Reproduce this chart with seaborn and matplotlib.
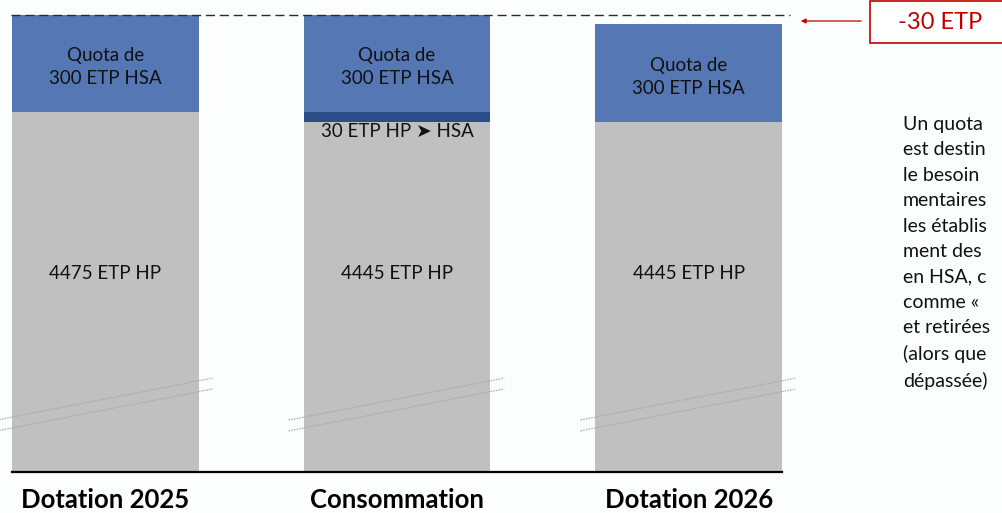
import matplotlib
matplotlib.use("Agg")
import matplotlib.pyplot as plt
from matplotlib.patches import Rectangle
import pandas as pd
import seaborn as sns

categories = ["Dotation 2025", "Consommation", "Dotation 2026"]
hp = [4475, 4445, 4445]
hp_to_hsa = [0, 30, 0]
hsa = [300, 300, 300]
ecart_label = "-30 ETP"
note_lines = ["Un quota", "est destin", "le besoin", "mentaires", "les établis",
              "ment des", "en HSA, c", "comme «", "et retirées", "(alors que",
              "dépassée)"]

BLUE = "#5578B4"
DARK_BLUE = "#2A4D89"
GREY = "#C0C0C0"
RED = "#C00000"
BG = "#FCFEFE"

df = pd.DataFrame({"cat": categories, "hp": hp, "shift": hp_to_hsa, "hsa": hsa})
df["with_shift"] = df["hp"] + df["shift"]
df["total"] = df["with_shift"] + df["hsa"]

sns.set_theme(style="white")
plt.rcParams["font.family"] = ["Lato", "DejaVu Sans"]

fig = plt.figure(figsize=(10.02, 5.13), dpi=100, facecolor=BG)
ax = fig.add_axes([12 / 1002, 41 / 513, 770 / 1002, 472 / 513])
ax.set_facecolor("none")

bar_w = 0.64
sns.barplot(data=df, x="cat", y="total", color=BLUE, width=bar_w, saturation=1,
            errorbar=None, linewidth=0, ax=ax)
sns.barplot(data=df, x="cat", y="with_shift", color=DARK_BLUE, width=bar_w, saturation=1,
            errorbar=None, linewidth=0, ax=ax)
sns.barplot(data=df, x="cat", y="hp", color=GREY, width=bar_w, saturation=1,
            errorbar=None, linewidth=0, ax=ax)

# broken axis: only the top of the bars is shown
ax.set_ylim(3367, 4820)
ax.set_xlim(-bar_w / 2, len(categories) - 1 + bar_w / 2)

for i, row in df.iterrows():
    ax.annotate(f"Quota de\n{row['hsa']} ETP HSA", (i, row["with_shift"] + row["hsa"] / 2),
                xytext=(0, -2.5), textcoords="offset points",
                ha="center", va="center", fontsize=13.5, linespacing=1.42, color="#111111")
    ax.text(i, 0.4216, f"{row['hp']} ETP HP", transform=ax.get_xaxis_transform(),
            ha="center", va="center", fontsize=13.5, color="#111111")
    if row["shift"]:
        ax.annotate(f"{row['shift']} ETP HP ➤ HSA", (i, row["hp"]), xytext=(0, -7),
                    textcoords="offset points", ha="center", va="center",
                    fontsize=13.5, color="#111111")
    # break marks
    xs = [i - bar_w / 2 - 0.052, i + bar_w / 2 + 0.048]
    for y0, y1 in [(0.110, 0.199), (0.087, 0.176)]:
        ax.plot(xs, [y0, y1], transform=ax.get_xaxis_transform(), color="#A8A8A8",
                lw=0.8, ls=(0, (1.5, 1)), clip_on=False)

# reference line at the 2025 total
ax.plot([-bar_w / 2 - 0.004, 2.347], [df["total"][0]] * 2, color="#2A2A2A", lw=1,
        ls=(0, (6.5, 3.5)), clip_on=False)

sns.despine(ax=ax, left=True)
ax.spines["bottom"].set_color("black")
ax.spines["bottom"].set_linewidth(1.6)
ax.set_yticks([])
ax.set_xlabel("")
ax.set_ylabel("")
ax.set_xticks(range(len(categories)))
ax.set_xticklabels(categories, fontsize=18.5, fontweight="bold", color="black")
ax.tick_params(axis="x", length=0, pad=11.5)

# -30 ETP box and arrow
fig.add_artist(Rectangle((870 / 1002, 1 - 43 / 513), 0.2, 42 / 513,
                         transform=fig.transFigure, fc="white", ec=RED, lw=1.2))
fig.text(940 / 1002, 1 - 23 / 513, ecart_label, ha="center", va="center",
         fontsize=17, color=RED)
ax.annotate("", xy=(798, 513 - 21), xycoords="figure pixels",
            xytext=(864, 513 - 21), textcoords="figure pixels",
            arrowprops=dict(arrowstyle="-|>", color=RED, lw=0.9, mutation_scale=7))

fig.text(903 / 1002, 1 - 116 / 513, "\n".join(note_lines), ha="left", va="top",
         fontsize=14, linespacing=1.6, color="#111111")

fig.savefig("out.png", dpi=100, facecolor=BG)
